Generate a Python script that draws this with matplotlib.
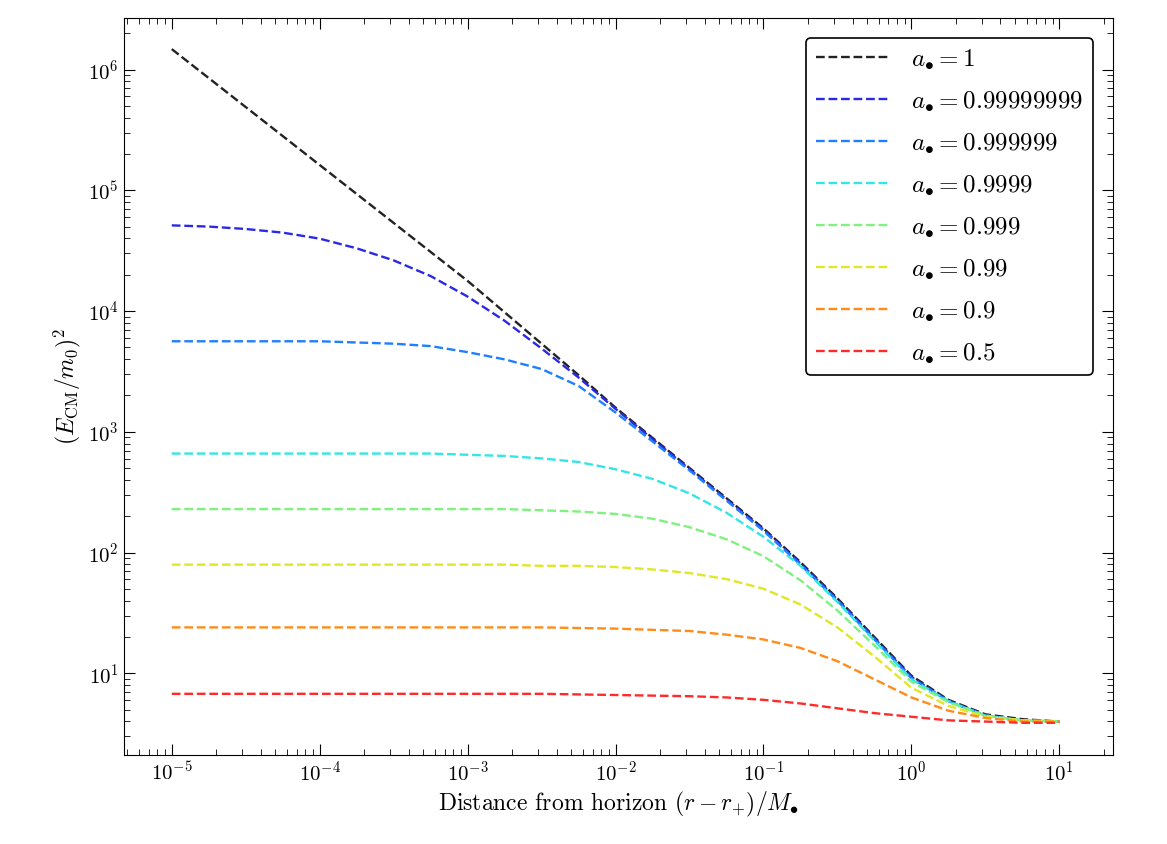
import numpy as np
import matplotlib
matplotlib.use("Agg")
import matplotlib.pyplot as plt

plt.rcParams["mathtext.fontset"] = "cm"
plt.rcParams["font.family"] = "serif"
plt.rcParams["font.serif"] = ["cmr10", "DejaVu Serif"]
plt.rcParams["axes.formatter.use_mathtext"] = True

labels = ["1", "0.99999999", "0.999999", "0.9999", "0.999", "0.99", "0.9", "0.5"]
colors = ["#222222", "#2a2ae6", "#1f7fff", "#33e6e6", "#80f080", "#e0e628", "#ff8c1a", "#ff2a2a"]

log_x = [-5, -4.75, -4.5, -4.25, -4, -3.75, -3.5, -3.25, -3, -2.75, -2.5, -2.25,
         -2, -1.75, -1.5, -1.25, -1, -0.75, -0.5, -0.25, 0, 0.25, 0.5, 0.75, 1]
log_y = [
    [6.17, 5.93, 5.69, 5.45, 5.21, 4.97, 4.73, 4.49, 4.25, 3.99, 3.73, 3.47, 3.2,
     2.95, 2.7, 2.45, 2.2, 1.92, 1.62, 1.3, 0.98, 0.78, 0.66, 0.62, 0.6],
    [4.71, 4.70, 4.68, 4.65, 4.60, 4.52, 4.42, 4.29, 4.12, 3.92, 3.69, 3.45, 3.19,
     2.94, 2.69, 2.44, 2.19, 1.91, 1.61, 1.29, 0.97, 0.77, 0.65, 0.61, 0.6],
    [3.75, 3.75, 3.75, 3.75, 3.75, 3.74, 3.73, 3.71, 3.66, 3.6, 3.52, 3.38, 3.16,
     2.92, 2.68, 2.43, 2.18, 1.9, 1.6, 1.28, 0.96, 0.77, 0.65, 0.61, 0.6],
    [2.82, 2.82, 2.82, 2.82, 2.82, 2.82, 2.82, 2.82, 2.81, 2.80, 2.78, 2.75, 2.69,
     2.61, 2.49, 2.33, 2.13, 1.89, 1.59, 1.27, 0.95, 0.77, 0.65, 0.61, 0.6],
    [2.36, 2.36, 2.36, 2.36, 2.36, 2.36, 2.36, 2.36, 2.36, 2.36, 2.35, 2.34, 2.32,
     2.28, 2.21, 2.11, 1.97, 1.77, 1.52, 1.23, 0.93, 0.76, 0.65, 0.61, 0.6],
    [1.9, 1.9, 1.9, 1.9, 1.9, 1.9, 1.9, 1.9, 1.9, 1.9, 1.89, 1.89, 1.88,
     1.86, 1.83, 1.78, 1.7, 1.57, 1.38, 1.14, 0.88, 0.73, 0.64, 0.61, 0.6],
    [1.38, 1.38, 1.38, 1.38, 1.38, 1.38, 1.38, 1.38, 1.38, 1.38, 1.38, 1.375, 1.37,
     1.36, 1.35, 1.32, 1.28, 1.21, 1.1, 0.95, 0.8, 0.69, 0.63, 0.6, 0.6],
    [0.83, 0.83, 0.83, 0.83, 0.83, 0.83, 0.83, 0.83, 0.83, 0.83, 0.83, 0.825, 0.82,
     0.815, 0.81, 0.8, 0.78, 0.75, 0.71, 0.67, 0.64, 0.61, 0.6, 0.59, 0.59],
]

fig = plt.figure(figsize=(11.67, 8.44), dpi=100)
ax = fig.add_axes([0.106, 0.105, 0.848, 0.874])
x = 10.0 ** np.array(log_x)
for lab, c, ly in zip(labels, colors, log_y):
    ax.plot(x, 10.0 ** np.array(ly), ls="--", color=c, lw=1.7,
            label=r"$a_{\bullet} = %s$" % lab)

ax.set_xscale("log")
ax.set_yscale("log")
ax.set_xlim(10 ** -5.325, 10 ** 1.365)
ax.set_ylim(10 ** 0.32, 10 ** 6.43)
ax.tick_params(which="both", direction="in", top=True, right=True, labelsize=15)
ax.tick_params(which="major", length=8)
ax.tick_params(which="minor", length=4)
ax.set_xlabel(r"Distance from horizon $(r - r_{+})/M_{\bullet}$", fontsize=17)
ax.set_ylabel(r"$(E_{\rm CM}/m_0)^2$", fontsize=17)
leg = ax.legend(loc="upper right", fontsize=18, frameon=True, fancybox=True,
                edgecolor="black", handlelength=3, labelspacing=0.75,
                borderaxespad=0.8, framealpha=1)
leg.get_frame().set_linewidth(1.2)
fig.savefig("out.png", dpi=100)
